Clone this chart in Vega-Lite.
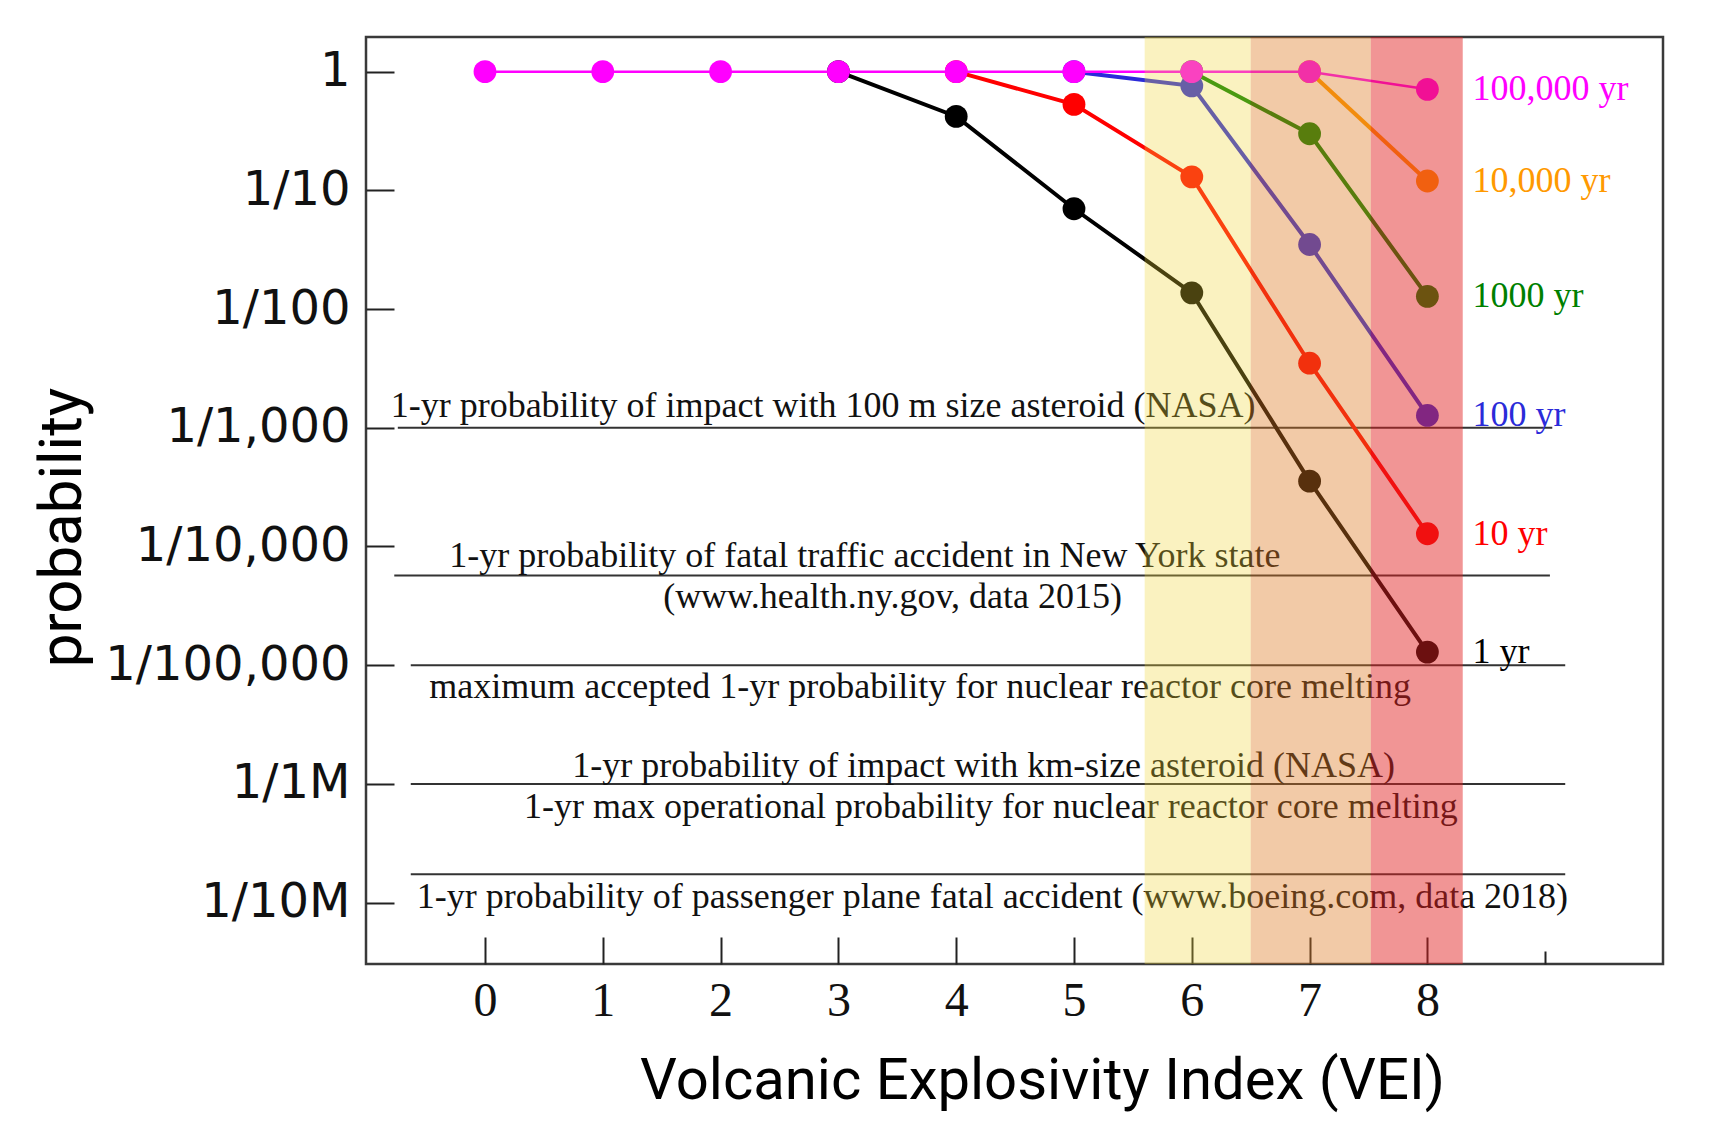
{
  "$schema": "https://vega.github.io/schema/vega-lite/v6.json",
  "width": 1297,
  "height": 927,
  "autosize": {"type": "none"},
  "padding": {"left": 366, "top": 37, "right": 53, "bottom": 159},
  "background": "white",
  "config": {"view": {"stroke": "#3a3a3a", "strokeWidth": 2.5}},
  "datasets": {
    "series": [
      {"series": "100,000 yr", "x": 0, "p": 1},
      {"series": "100,000 yr", "x": 1, "p": 1},
      {"series": "100,000 yr", "x": 2, "p": 1},
      {"series": "100,000 yr", "x": 3, "p": 1},
      {"series": "100,000 yr", "x": 4, "p": 1},
      {"series": "100,000 yr", "x": 5, "p": 1},
      {"series": "100,000 yr", "x": 6, "p": 1},
      {"series": "100,000 yr", "x": 7, "p": 1},
      {"series": "100,000 yr", "x": 8, "p": 0.71},
      {"series": "10,000 yr", "x": 7, "p": 1},
      {"series": "10,000 yr", "x": 8, "p": 0.12},
      {"series": "1000 yr", "x": 6, "p": 1},
      {"series": "1000 yr", "x": 7, "p": 0.30},
      {"series": "1000 yr", "x": 8, "p": 0.0128},
      {"series": "100 yr", "x": 5, "p": 1},
      {"series": "100 yr", "x": 6, "p": 0.76},
      {"series": "100 yr", "x": 7, "p": 0.035},
      {"series": "100 yr", "x": 8, "p": 0.00127},
      {"series": "10 yr", "x": 4, "p": 1},
      {"series": "10 yr", "x": 5, "p": 0.53},
      {"series": "10 yr", "x": 6, "p": 0.13},
      {"series": "10 yr", "x": 7, "p": 0.0035},
      {"series": "10 yr", "x": 8, "p": 0.000128},
      {"series": "1 yr", "x": 3, "p": 1},
      {"series": "1 yr", "x": 4, "p": 0.42},
      {"series": "1 yr", "x": 5, "p": 0.070},
      {"series": "1 yr", "x": 6, "p": 0.0137},
      {"series": "1 yr", "x": 7, "p": 0.000355},
      {"series": "1 yr", "x": 8, "p": 0.0000129}
    ],
    "refs": [
      {"x": -0.74, "x2": 9.06, "p": 0.001},
      {"x": -0.77, "x2": 9.04, "p": 0.0000571},
      {"x": -0.63, "x2": 9.17, "p": 0.00001},
      {"x": -0.63, "x2": 9.17, "p": 0.000001},
      {"x": -0.63, "x2": 9.17, "p": 0.000000173}
    ],
    "notes": [
      {"x": 2.87, "p": 0.001535, "text": "1-yr probability of impact with 100 m size asteroid (NASA)"},
      {"x": 3.225, "p": 0.0000836, "text": "1-yr probability of fatal traffic accident in New York state"},
      {"x": 3.46, "p": 0.0000373, "text": "(www.health.ny.gov, data 2015)"},
      {"x": 3.694, "p": 0.00000654, "text": "maximum accepted 1-yr probability for nuclear reactor core melting"},
      {"x": 4.233, "p": 0.00000142, "text": "1-yr probability of impact with km-size asteroid (NASA)"},
      {"x": 4.294, "p": 0.000000645, "text": "1-yr max operational probability for nuclear reactor core melting"},
      {"x": 4.308, "p": 0.0000001107, "text": "1-yr probability of passenger plane fatal accident (www.boeing.com, data 2018)"}
    ],
    "bands": [
      {"zone": "yellow", "x": 5.6, "x2": 6.5},
      {"zone": "orange", "x": 6.5, "x2": 7.52},
      {"zone": "red", "x": 7.52, "x2": 8.3}
    ]
  },
  "layer": [
    {
      "data": {"name": "refs"},
      "mark": {"type": "rule", "color": "#333333", "strokeWidth": 2},
      "encoding": {
        "x": {
          "field": "x", "type": "quantitative", "title": "Volcanic Explosivity Index (VEI)",
          "scale": {"domain": [-1.01, 10], "nice": false, "zero": false},
          "axis": {
            "values": [0, 1, 2, 3, 4, 5, 6, 7, 8, 9],
            "labelExpr": "datum.value == 9 ? '' : format(datum.value, 'd')",
            "grid": false, "domain": false,
            "tickSize": {"condition": {"test": "datum.value == 9", "value": -13}, "value": -27},
            "tickColor": "#222222", "tickWidth": 2,
            "labelFont": "Liberation Serif", "labelFontSize": 48, "labelColor": "#111111",
            "labelPadding": 40, "labelFlush": false,
            "titleFont": "Roboto", "titleFontSize": 58, "titleFontWeight": "normal", "titleColor": "#000000",
            "titleX": 676, "titleY": 134, "titleBaseline": "alphabetic", "titleAlign": "center"
          }
        },
        "x2": {"field": "x2"},
        "y": {
          "field": "p", "type": "quantitative", "title": "probability",
          "scale": {"type": "log", "domain": [3.04e-8, 1.959], "nice": false},
          "axis": {
            "values": [1, 0.1, 0.01, 0.001, 0.0001, 0.00001, 0.000001, 0.0000001],
            "labelExpr": "datum.value > 0.5 ? '1' : (datum.value < 0.0000015 ? '1/' + format(0.000001 / datum.value, '.0f') + 'M' : '1/' + format(1 / datum.value, ',.0f'))",
            "grid": false, "domain": false,
            "tickSize": -28, "tickColor": "#222222", "tickWidth": 2,
            "labelFont": "DejaVu Sans", "labelFontSize": 48, "labelColor": "#111111",
            "labelPadding": 44, "labelOverlap": false, "labelFlush": false, "labelLimit": 500,
            "titleFont": "Roboto", "titleFontSize": 60, "titleFontWeight": "normal", "titleColor": "#000000",
            "titleX": -286, "titleY": 490, "titleBaseline": "alphabetic", "titleAlign": "center", "titleAngle": -90
          }
        }
      }
    },
    {
      "data": {"name": "notes"},
      "mark": {"type": "text", "font": "Liberation Serif", "fontSize": 36, "color": "#111111", "align": "center", "baseline": "middle"},
      "encoding": {
        "x": {"field": "x", "type": "quantitative", "title": "Volcanic Explosivity Index (VEI)"},
        "y": {"field": "p", "type": "quantitative", "title": "probability"},
        "text": {"field": "text"}
      }
    },
    {
      "data": {"name": "series"},
      "transform": [{"filter": "datum.series != '100,000 yr'"}],
      "mark": {"type": "line", "strokeWidth": 4},
      "encoding": {
        "x": {"field": "x", "type": "quantitative", "title": "Volcanic Explosivity Index (VEI)"},
        "y": {"field": "p", "type": "quantitative", "title": "probability"},
        "color": {"field": "series", "type": "nominal", "legend": null,
          "scale": {"domain": ["1 yr", "10 yr", "100 yr", "1000 yr", "10,000 yr", "100,000 yr", "yellow", "orange", "red"],
                    "range": ["#000000", "#ff0000", "#2b2bd9", "#008000", "#ff9900", "#ff00ff", "#efd534", "#dd7921", "#e12222"]}},
        "detail": {"field": "series"}
      }
    },
    {
      "data": {"name": "series"},
      "transform": [{"filter": "datum.series != '100,000 yr'"}],
      "mark": {"type": "point", "filled": true, "size": 520, "opacity": 1},
      "encoding": {
        "x": {"field": "x", "type": "quantitative", "title": "Volcanic Explosivity Index (VEI)"},
        "y": {"field": "p", "type": "quantitative", "title": "probability"},
        "color": {"field": "series", "type": "nominal", "legend": null}
      }
    },
    {
      "data": {"name": "series"},
      "transform": [{"filter": "datum.series == '100,000 yr'"}],
      "mark": {"type": "line", "strokeWidth": 2.5},
      "encoding": {
        "x": {"field": "x", "type": "quantitative", "title": "Volcanic Explosivity Index (VEI)"},
        "y": {"field": "p", "type": "quantitative", "title": "probability"},
        "color": {"field": "series", "type": "nominal", "legend": null}
      }
    },
    {
      "data": {"name": "series"},
      "transform": [{"filter": "datum.series == '100,000 yr'"}],
      "mark": {"type": "point", "filled": true, "size": 520, "opacity": 1},
      "encoding": {
        "x": {"field": "x", "type": "quantitative", "title": "Volcanic Explosivity Index (VEI)"},
        "y": {"field": "p", "type": "quantitative", "title": "probability"},
        "color": {"field": "series", "type": "nominal", "legend": null}
      }
    },
    {
      "data": {"name": "series"},
      "transform": [{"filter": "datum.x == 8"}],
      "mark": {"type": "text", "font": "Liberation Serif", "fontSize": 36, "align": "left", "baseline": "middle", "dx": 45},
      "encoding": {
        "x": {"field": "x", "type": "quantitative", "title": "Volcanic Explosivity Index (VEI)"},
        "y": {"field": "p", "type": "quantitative", "title": "probability"},
        "text": {"field": "series"},
        "color": {"field": "series", "type": "nominal", "legend": null}
      }
    },
    {
      "data": {"name": "bands"},
      "mark": {"type": "rect"},
      "encoding": {
        "x": {"field": "x", "type": "quantitative", "title": "Volcanic Explosivity Index (VEI)"},
        "x2": {"field": "x2"},
        "color": {"field": "zone", "type": "nominal", "legend": null},
        "opacity": {"field": "zone", "type": "nominal", "legend": null,
          "scale": {"domain": ["yellow", "orange", "red"], "range": [0.31, 0.48, 0.47]}}
      }
    }
  ]
}
